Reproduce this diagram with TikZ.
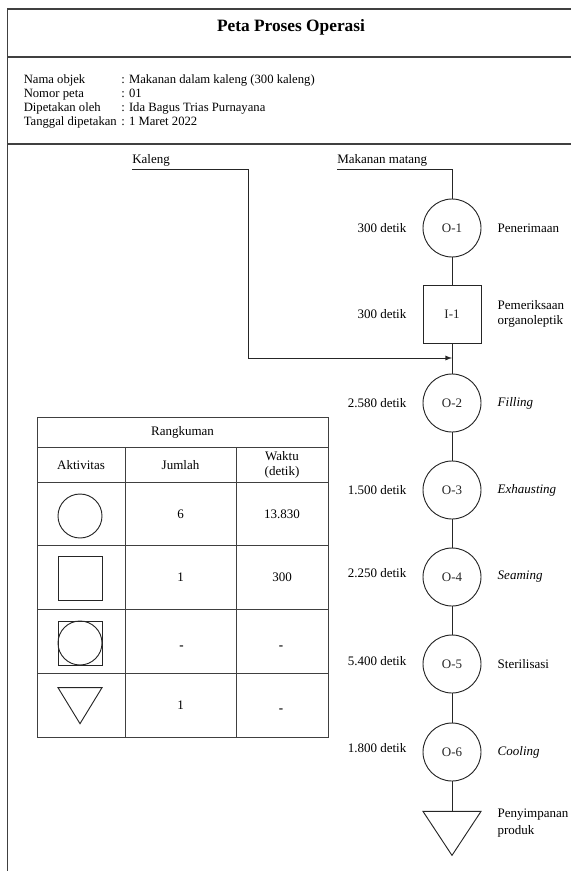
\documentclass[tikz,border=0pt]{standalone}
\usepackage{fontspec}
\setmainfont{Liberation Serif}
\usetikzlibrary{shapes.geometric, positioning}

\begin{document}
\begin{tikzpicture}[x=0.75pt, y=-0.75pt, every node/.style={font=\fontsize{9.75}{11.25}\selectfont},
  frame/.style={line width=1.2pt, black!75},
  grid/.style={line width=0.7pt, black!75},
  flow/.style={line width=0.7pt, black!85},
  op/.style={draw, circle, minimum size=43.5pt, inner sep=0pt, flow},
  insp/.style={draw, rectangle, minimum size=43.5pt, inner sep=0pt, flow},
  store/.style={draw, isosceles triangle, isosceles triangle stretches, shape border rotate=270, minimum width=43.5pt, minimum height=33pt, inner sep=0pt, flow},
  lbl/.style={inner sep=1pt, align=left},
  info/.style={inner sep=0pt, anchor=base west, font=\fontsize{9.5}{11}\selectfont}]
  \useasboundingbox (0,0) rectangle (571,871);

  % Frame
  \draw[frame] (571,9) -- (7.5,9) -- (7.5,871);
  \draw[frame] (7.5,57) -- (571,57);
  \draw[frame] (7.5,144) -- (571,144);

  % Header: title and chart data
  \node[font=\fontsize{13}{15}\selectfont\bfseries] (title) at (291,27.5) {Peta Proses Operasi};
  \node[info] (nama) at (23.5,83) {Nama objek};
  \node[info] (nomor) at (23.5,97) {Nomor peta};
  \node[info] (oleh) at (23.5,111) {Dipetakan oleh};
  \node[info] (tgl) at (23.5,125) {Tanggal dipetakan};
  \node[info] (nama-v) at (121,83) {: Makanan dalam kaleng (300 kaleng)};
  \node[info] (nomor-v) at (121,97) {: 01};
  \node[info] (oleh-v) at (121,111) {: Ida Bagus Trias Purnayana};
  \node[info] (tgl-v) at (121,125) {: 1 Maret 2022};

  % Inputs
  \node[anchor=south west, inner xsep=0pt, inner ysep=2pt] (kaleng) at (132,169) {Kaleng};
  \node[anchor=south west, inner xsep=0pt, inner ysep=2pt] (matang) at (337,169) {Makanan matang};
  \coordinate (kbend) at (248,169);
  \coordinate (join) at (452,358);

  % Process steps
  \node[op] (o1) at (452,228) {O-1};
  \node[insp] (i1) at (452,314) {I-1};
  \node[op] (o2) at (452,403) {O-2};
  \node[op] (o3) at (452,490) {O-3};
  \node[op] (o4) at (452,577) {O-4};
  \node[op] (o5) at (452,664) {O-5};
  \node[op] (o6) at (452,752) {O-6};
  \node[store] (p1) at (452,827) {};

  % Times (left) and names (right)
  \node[lbl, left=11pt of o1] (o1-t) {300 detik};
  \node[lbl, right=11pt of o1] (o1-n) {Penerimaan};
  \node[lbl, left=11pt of i1] (i1-t) {300 detik};
  \node[lbl, right=11pt of i1] (i1-n) {Pemeriksaan\\organoleptik};
  \node[lbl, left=11pt of o2] (o2-t) {2.580 detik};
  \node[lbl, right=11pt of o2] (o2-n) {\emph{Filling}};
  \node[lbl, left=11pt of o3] (o3-t) {1.500 detik};
  \node[lbl, right=11pt of o3] (o3-n) {\emph{Exhausting}};
  \node[lbl, left=11pt of o4, yshift=3pt] (o4-t) {2.250 detik};
  \node[lbl, right=11pt of o4] (o4-n) {\emph{Seaming}};
  \node[lbl, left=11pt of o5, yshift=2pt] (o5-t) {5.400 detik};
  \node[lbl, right=11pt of o5] (o5-n) {Sterilisasi};
  \node[lbl, left=11pt of o6, yshift=3pt] (o6-t) {1.800 detik};
  \node[lbl, right=11pt of o6] (o6-n) {\emph{Cooling}};
  \node[lbl, anchor=west, font=\fontsize{9.75}{12.5}\selectfont] (p1-n) at (496,823) {Penyimpanan\\produk};

  % Connectors
  \draw[flow] (matang.south west) -| (o1);
  \draw[flow, -latex] (kaleng.south west) -- (kbend) |- (join);
  \draw[flow] (o1) -- (i1) -- (o2) -- (o3) -- (o4) -- (o5) -- (o6) -- (p1);

  % Summary table
  \draw[grid] (37,417) rectangle (328,737);
  \draw[grid] (37,447) -- (328,447);
  \draw[grid] (37,482) -- (328,482);
  \draw[grid] (37,545) -- (328,545);
  \draw[grid] (37,609) -- (328,609);
  \draw[grid] (37,673) -- (328,673);
  \draw[grid] (125,447) -- (125,737);
  \draw[grid] (236,447) -- (236,737);

  \node (rk) at (182.5,432) {Rangkuman};
  \node (akt) at (81,465) {Aktivitas};
  \node (jml) at (180.5,465) {Jumlah};
  \node[align=center] (wkt) at (282,465) {Waktu\\(detik)};

  \node[draw, circle, minimum size=33pt, inner sep=0pt, flow] (s-op) at (80,516) {};
  \node[draw, minimum size=33pt, inner sep=0pt, flow] (s-insp) at (80,578) {};
  \node[draw, minimum size=33pt, inner sep=0pt, flow] (s-comb) at (80,643) {};
  \node[draw, circle, minimum size=33pt, inner sep=0pt, flow] (s-comb-c) at (80,643) {};
  \node[store, minimum width=33pt, minimum height=27pt] (s-store) at (80,700) {};

  \node (n-op) at (180.5,514) {6};
  \node (w-op) at (282,514) {13.830};
  \node (n-insp) at (180.5,577) {1};
  \node (w-insp) at (282,577) {300};
  \node[font=\fontsize{9.75}{11.25}\selectfont\bfseries] (n-comb) at (181.5,648) {-};
  \node[font=\fontsize{9.75}{11.25}\selectfont\bfseries] (w-comb) at (281,648) {-};
  \node (n-store) at (180.5,705) {1};
  \node[font=\fontsize{9.75}{11.25}\selectfont\bfseries] (w-store) at (281,711) {-};
\end{tikzpicture}
\end{document}
